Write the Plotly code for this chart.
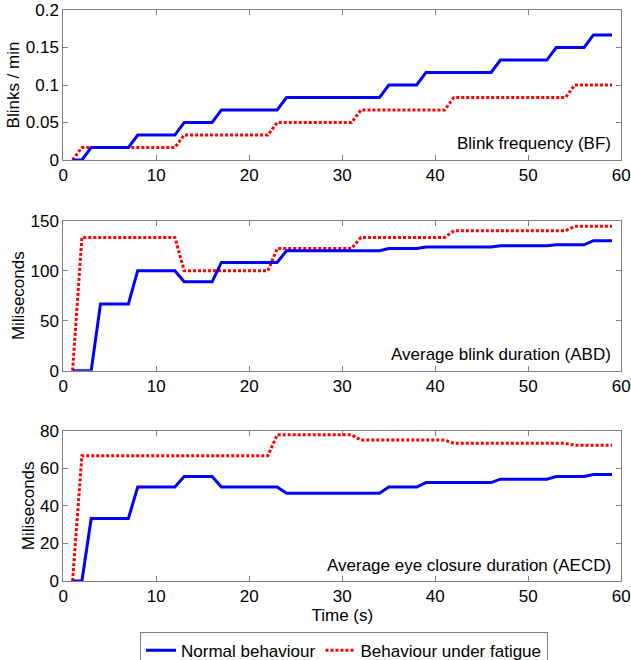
import plotly.graph_objects as go

time_s = list(range(1, 60))

bf_normal = [0, 0,
             0.0167, 0.0167, 0.0167, 0.0167, 0.0167,
             0.0333, 0.0333, 0.0333, 0.0333, 0.0333,
             0.05, 0.05, 0.05, 0.05,
             0.0667, 0.0667, 0.0667, 0.0667, 0.0667, 0.0667, 0.0667,
             0.0833, 0.0833, 0.0833, 0.0833, 0.0833, 0.0833, 0.0833, 0.0833, 0.0833, 0.0833, 0.0833,
             0.1, 0.1, 0.1, 0.1,
             0.1167, 0.1167, 0.1167, 0.1167, 0.1167, 0.1167, 0.1167, 0.1167,
             0.1333, 0.1333, 0.1333, 0.1333, 0.1333, 0.1333,
             0.15, 0.15, 0.15, 0.15,
             0.1667, 0.1667, 0.1667]
bf_fatigue = [0,
              0.0167, 0.0167, 0.0167, 0.0167, 0.0167, 0.0167, 0.0167, 0.0167, 0.0167, 0.0167, 0.0167,
              0.0333, 0.0333, 0.0333, 0.0333, 0.0333, 0.0333, 0.0333, 0.0333, 0.0333, 0.0333,
              0.05, 0.05, 0.05, 0.05, 0.05, 0.05, 0.05, 0.05, 0.05,
              0.0667, 0.0667, 0.0667, 0.0667, 0.0667, 0.0667, 0.0667, 0.0667, 0.0667, 0.0667,
              0.0833, 0.0833, 0.0833, 0.0833, 0.0833, 0.0833, 0.0833, 0.0833, 0.0833, 0.0833, 0.0833, 0.0833, 0.0833,
              0.1, 0.1, 0.1, 0.1, 0.1]

abd_normal = [0, 0, 0,
              66.7, 66.7, 66.7, 66.7,
              100, 100, 100, 100, 100,
              88.9, 88.9, 88.9, 88.9,
              108.3, 108.3, 108.3, 108.3, 108.3, 108.3, 108.3,
              120, 120, 120, 120, 120, 120, 120, 120, 120, 120, 120,
              122.2, 122.2, 122.2, 122.2,
              123.8, 123.8, 123.8, 123.8, 123.8, 123.8, 123.8, 123.8,
              125, 125, 125, 125, 125, 125,
              125.9, 125.9, 125.9, 125.9,
              130, 130, 130]
abd_fatigue = [0,
               133.3, 133.3, 133.3, 133.3, 133.3, 133.3, 133.3, 133.3, 133.3, 133.3, 133.3,
               100, 100, 100, 100, 100, 100, 100, 100, 100, 100,
               122.2, 122.2, 122.2, 122.2, 122.2, 122.2, 122.2, 122.2, 122.2,
               133.3, 133.3, 133.3, 133.3, 133.3, 133.3, 133.3, 133.3, 133.3, 133.3,
               140, 140, 140, 140, 140, 140, 140, 140, 140, 140, 140, 140, 140,
               144.4, 144.4, 144.4, 144.4, 144.4]

aecd_normal = [0, 0,
               33.3, 33.3, 33.3, 33.3, 33.3,
               50, 50, 50, 50, 50,
               55.6, 55.6, 55.6, 55.6,
               50, 50, 50, 50, 50, 50, 50,
               46.7, 46.7, 46.7, 46.7, 46.7, 46.7, 46.7, 46.7, 46.7, 46.7, 46.7,
               50, 50, 50, 50,
               52.4, 52.4, 52.4, 52.4, 52.4, 52.4, 52.4, 52.4,
               54.2, 54.2, 54.2, 54.2, 54.2, 54.2,
               55.6, 55.6, 55.6, 55.6,
               56.7, 56.7, 56.7]
aecd_fatigue = [0,
                66.7, 66.7, 66.7, 66.7, 66.7, 66.7, 66.7, 66.7, 66.7, 66.7, 66.7,
                66.7, 66.7, 66.7, 66.7, 66.7, 66.7, 66.7, 66.7, 66.7, 66.7,
                77.8, 77.8, 77.8, 77.8, 77.8, 77.8, 77.8, 77.8, 77.8,
                75, 75, 75, 75, 75, 75, 75, 75, 75, 75,
                73.3, 73.3, 73.3, 73.3, 73.3, 73.3, 73.3, 73.3, 73.3, 73.3, 73.3, 73.3, 73.3,
                72.2, 72.2, 72.2, 72.2, 72.2]

series_names = ["Normal behaviour", "Behaviour under fatigue"]
panel_titles = ["Blink frequency (BF)", "Average blink duration (ABD)", "Average eye closure duration (AECD)"]
y_titles = ["Blinks / min", "Miliseconds", "Miliseconds"]
y_ranges = [[0, 0.2], [0, 150], [0, 80]]
y_dticks = [0.05, 50, 20]
x_title = "Time (s)"

W, H = 631, 660
FONT = "Liberation Sans, Arial, sans-serif"
FS = 17
x_dom = [63.3 / W, 621.3 / W]
panel_px = [(10, 160), (220.7, 370.7), (430.7, 581)]
y_doms = [[1 - b / H, 1 - t / H] for (t, b) in panel_px]

fig = go.Figure()
data = [(bf_normal, bf_fatigue), (abd_normal, abd_fatigue), (aecd_normal, aecd_fatigue)]
for i, (n, f) in enumerate(data):
    xa = "x" if i == 0 else f"x{i+1}"
    ya = "y" if i == 0 else f"y{i+1}"
    fig.add_trace(go.Scatter(x=time_s, y=f, mode="lines", name=series_names[1],
                             line=dict(color="#ff0000", width=3, dash="3px,2px"),
                             xaxis=xa, yaxis=ya, showlegend=False, legendrank=2))
    fig.add_trace(go.Scatter(x=time_s, y=n, mode="lines", name=series_names[0],
                             line=dict(color="#0000ff", width=3),
                             xaxis=xa, yaxis=ya, showlegend=(i == 0), legendrank=1))
fig.add_trace(go.Scatter(x=[None], y=[None], mode="lines", name=series_names[1],
                         line=dict(color="#ff0000", width=3, dash="3px,2px"),
                         showlegend=True, legendrank=2))

axis_common = dict(showline=True, linecolor="#808080", linewidth=1, mirror="allticks",
                   ticks="inside", ticklen=5, tickcolor="#808080", showgrid=False,
                   zeroline=False, tickfont=dict(size=FS, color="black", family=FONT))
layout = {}
for i in range(3):
    xk = "xaxis" if i == 0 else f"xaxis{i+1}"
    yk = "yaxis" if i == 0 else f"yaxis{i+1}"
    xanchor = "y" if i == 0 else f"y{i+1}"
    yanchor = "x" if i == 0 else f"x{i+1}"
    layout[xk] = dict(domain=x_dom, anchor=xanchor, range=[0, 60], dtick=10, tick0=0, **axis_common)
    layout[yk] = dict(domain=y_doms[i], anchor=yanchor, range=y_ranges[i], dtick=y_dticks[i], tick0=0,
                      title=dict(text=y_titles[i], font=dict(size=FS, color="black", family=FONT), standoff=1),
                      **axis_common)
layout["xaxis3"]["title"] = dict(text=x_title, font=dict(size=FS, color="black", family=FONT), standoff=2)
fig.update_layout(**layout)

ann_y = [0.111, 0.105, 0.106]
for i in range(3):
    xr = "x domain" if i == 0 else f"x{i+1} domain"
    yr = "y domain" if i == 0 else f"y{i+1} domain"
    fig.add_annotation(text=panel_titles[i], xref=xr, yref=yr, x=0.985, y=ann_y[i],
                       xanchor="right", yanchor="middle", showarrow=False,
                       font=dict(size=FS, color="black", family=FONT))

fig.update_layout(
    width=W, height=H, margin=dict(l=0, r=0, t=0, b=0, autoexpand=False),
    paper_bgcolor="white", plot_bgcolor="white",
    font=dict(family=FONT, size=FS, color="black"),
    legend=dict(orientation="h", x=344 / W, xanchor="center", y=1 - 631.7 / H, yanchor="top",
                bordercolor="#808080", borderwidth=1, bgcolor="white",
                font=dict(size=FS, color="black", family=FONT), itemwidth=30,
                traceorder="normal", tracegroupgap=0),
    showlegend=True,
)
fig.write_html("out.html", config={"displayModeBar": False},
               post_script="document.body.style.margin='0px';")
